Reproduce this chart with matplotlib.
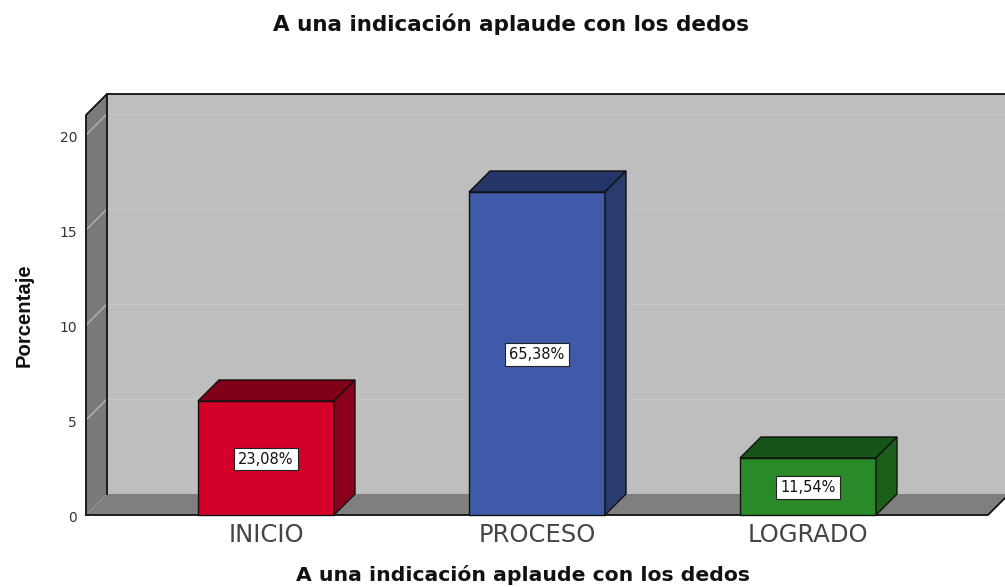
import matplotlib
matplotlib.use("Agg")
import matplotlib.pyplot as plt
from matplotlib.patches import Polygon

categories = ["INICIO", "PROCESO", "LOGRADO"]
counts = [6, 17, 3]
percent_labels = ["23,08%", "65,38%", "11,54%"]
front_colors = ["#D4002A", "#3F5AA8", "#2A8A2A"]
top_colors = ["#7F0018", "#253567", "#175417"]
side_colors = ["#8A001C", "#2A3B70", "#1B5F1B"]
y_ticks = [0, 5, 10, 15, 20]
title = "A una indicación aplaude con los dedos"
y_label = "Porcentaje"

W, H = 1005, 587
L, R, B, T = 86, 1009, 515, 94      # axes box, px
px_per_cat = 271.0
px_per_unit = 19.0
x0_px = 266.0
depth = 21.0
dx = depth / px_per_cat
dy = depth / px_per_unit
bar_w = 136.0 / px_per_cat

plt.rcParams["font.family"] = ["DejaVu Sans"]
fig = plt.figure(figsize=(W / 100, H / 100), dpi=100, facecolor="white")
ax = fig.add_axes([L / W, 1 - B / H, (R - L) / W, (B - T) / H])
ax.set_xlim((L - x0_px) / px_per_cat, (R - x0_px) / px_per_cat)
ax.set_ylim(0, (B - T) / px_per_unit)
ax.axis("off")

xl = ax.get_xlim()[0]
xr_back = ax.get_xlim()[1]
yt_front = 20 + (135 - 115) / px_per_unit
edge = "#111111"

# back wall
ax.add_patch(Polygon([(xl + dx, dy), (xr_back, dy), (xr_back, yt_front + dy), (xl + dx, yt_front + dy)],
                     closed=True, fc="#BEBEBE", ec="none", zorder=1))
# left wall and floor
ax.add_patch(Polygon([(xl, 0), (xl + dx, dy), (xl + dx, yt_front + dy), (xl, yt_front)],
                     closed=True, fc="#7A7A7A", ec="none", zorder=1))
ax.add_patch(Polygon([(xl, 0), (xr_back - dx, 0), (xr_back, dy), (xl + dx, dy)],
                     closed=True, fc="#7F7F7F", ec="none", zorder=1))
# gridlines on wall + side wall
for t in y_ticks[1:]:
    ax.plot([xl, xl + dx], [t, t + dy], color="#B4B4B4", lw=1.0, zorder=2)
    ax.plot([xl + dx, xr_back], [t + dy, t + dy], color="#C6C6C6", lw=1.0, zorder=2)
# frame lines
ax.plot([xl + dx, xl + dx, xr_back], [dy, yt_front + dy, yt_front + dy], color=edge, lw=1.3, zorder=3, clip_on=False)
ax.plot([xl, xl, xl + dx], [0, yt_front, yt_front + dy], color=edge, lw=1.3, zorder=3, clip_on=False)
ax.plot([xl, xr_back - dx, xr_back], [0, 0, dy], color=edge, lw=1.3, zorder=3, clip_on=False)

# ticks
for t in y_ticks:
    ax.text(xl - 9 / px_per_cat, t - 3 / px_per_unit, str(t), ha="right", va="center", fontsize=10,
            color="#333333", clip_on=False)

# bars
for i, v in enumerate(counts):
    l, r = i - bar_w / 2, i + bar_w / 2
    ax.add_patch(Polygon([(l, 0), (r, 0), (r, v), (l, v)], closed=True,
                         fc=front_colors[i], ec=edge, lw=1.0, zorder=5, clip_on=False))
    ax.add_patch(Polygon([(l, v), (r, v), (r + dx, v + dy), (l + dx, v + dy)], closed=True,
                         fc=top_colors[i], ec=edge, lw=1.0, zorder=5))
    ax.add_patch(Polygon([(r, 0), (r + dx, dy), (r + dx, v + dy), (r, v)], closed=True,
                         fc=side_colors[i], ec=edge, lw=1.0, zorder=5))
    ax.text(i, v / 2 - 1 / px_per_unit, percent_labels[i], ha="center", va="center", fontsize=10.5,
            color="#111111", zorder=7,
            bbox=dict(boxstyle="square,pad=0.27", fc="white", ec="#222222", lw=0.8))
    ax.text(i, -20 / px_per_unit, categories[i], ha="center", va="center", fontsize=17.5,
            color="#444444", clip_on=False)

fig.text(511 / W, 1 - 24 / H, title, ha="center", va="center", fontsize=15.5, fontweight="bold", color="#111111")
fig.text(523 / W, 1 - 575 / H, title, ha="center", va="center", fontsize=14.7, fontweight="bold", color="#111111")
fig.text(24 / W, 1 - 315 / H, y_label, rotation=90, ha="center", va="center", fontsize=14.6,
         fontweight="bold", color="#111111", family=["Liberation Sans"])

fig.savefig("out.png", dpi=100, facecolor="white")
